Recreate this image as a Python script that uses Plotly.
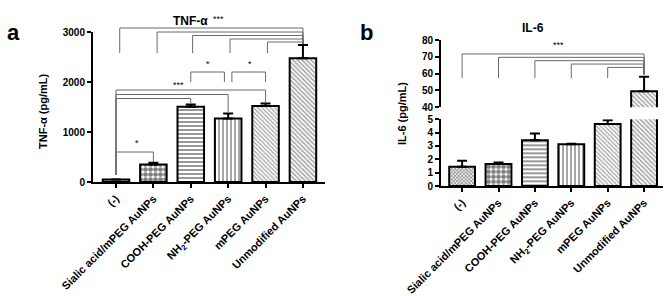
import plotly.graph_objects as go

W, H = 667, 296

# ---------------- data ----------------
categories = ["(-)", "Sialic acid/mPEG AuNPs", "COOH-PEG AuNPs",
              "NH<sub>2</sub>-PEG AuNPs", "mPEG AuNPs", "Unmodified AuNPs"]
tnf_mean = [50, 350, 1505, 1270, 1520, 2475]
tnf_err = [0, 35, 45, 100, 50, 265]
il6_mean = [1.45, 1.64, 3.43, 3.13, 4.65, 49.5]
il6_err = [0.45, 0.13, 0.5, 0.04, 0.28, 8.7]

tnf_ticks = [0, 1000, 2000, 3000]
il6_low_ticks = [0, 1, 2, 3, 4, 5]
il6_high_ticks = [40, 50, 60, 70, 80]

# significance brackets: (x left, x right, bracket level, left leg end, right leg end)
tnf_brackets = [
    (0.1, 5, 3080, 2580, 2760), (1.1, 5, 3000, 2580, 2760), (2.05, 5, 2930, 2580, 2760),
    (3.05, 5, 2860, 2580, 2760), (4.05, 5, 2800, 2580, 2760),
    (0, 4, 1840, 140, 1600), (0, 3, 1750, 140, 1400), (0, 2, 1670, 140, 1580),
    (2, 2.9, 2200, 2000, 2000), (3.1, 4, 2200, 2000, 2000),
    (0, 1, 600, 140, 400),
]
tnf_stars = [("***", 2.73, 3120), ("***", 1.66, 1800), ("*", 2.46, 2220),
             ("*", 3.58, 2220), ("*", 0.56, 640)]
il6_brackets = [
    (0, 5, 71.7, 57.4, 59.5), (1, 5, 69.7, 57.4, 59.5), (2, 5, 67.7, 57.4, 59.5),
    (3, 5, 65.7, 57.4, 59.5), (4, 5, 63.7, 57.4, 59.5),
]
il6_stars = [("***", 2.64, 72.8)]

pattern_shapes = ["x", ".", "-", "|", "\\", "\\"]
pattern_colors = ["#333333", "#000000", "#000000", "#000000", "#555555", "#444444"]
pattern_sizes = [2.5, 5, 4, 4, 3, 3.2]
pattern_solid = [0.6, 0.7, 0.4, 0.35, 0.45, 0.45]

FONT = "Liberation Sans, Arial, sans-serif"

# ---------------- layout helpers (pixel -> paper) ----------------
def px_x(p):
    return p / W

def px_y(p):
    return 1 - p / H

xs = list(range(len(categories)))

fig = go.Figure()

def bar_trace(vals, errs, xa, ya, showerr=True):
    return go.Bar(
        x=xs, y=vals, xaxis=xa, yaxis=ya, width=0.71,
        marker=dict(color="white", line=dict(color="black", width=2),
                    pattern=dict(shape=pattern_shapes, fgcolor=pattern_colors,
                                 bgcolor="white", size=pattern_sizes,
                                 solidity=pattern_solid, fillmode="overlay")),
        error_y=dict(type="data", array=errs, arrayminus=[0] * len(errs),
                     symmetric=False, color="black", thickness=2, width=5,
                     visible=showerr),
        showlegend=False, hoverinfo="skip",
    )

def bracket_trace(brackets, xa, ya):
    bx, by = [], []
    for xl, xr, lvl, lb, rb in brackets:
        bx += [xl, xl, xr, xr, None]
        by += [lb, lvl, lvl, rb, None]
    return go.Scatter(x=bx, y=by, xaxis=xa, yaxis=ya, mode="lines",
                      line=dict(color="#6a6a6a", width=1),
                      showlegend=False, hoverinfo="skip")

# panel a
fig.add_trace(bar_trace(tnf_mean, tnf_err, "x", "y"))
fig.add_trace(bracket_trace(tnf_brackets, "x", "y4"))
# panel b
fig.add_trace(bar_trace(il6_mean, il6_err, "x2", "y2"))
fig.add_trace(bar_trace(il6_mean, il6_err, "x2", "y3"))
fig.add_trace(bracket_trace(il6_brackets, "x2", "y3"))

tickfont = dict(family=FONT, size=10, color="black", weight="bold")
xtickfont = dict(family=FONT, size=11, color="black", weight="bold")
axis_common = dict(showline=True, linecolor="black", linewidth=2, ticks="outside",
                   ticklen=4, tickwidth=1.5, tickcolor="black", showgrid=False,
                   zeroline=False, automargin=False)

a_y0, a_y1 = px_y(182), px_y(32)
a_top = 3200
b_lo0, b_lo1 = px_y(186), px_y(119.3)
b_hi0, b_hi1 = px_y(107.3), px_y(40)

ticktext = [f"<b>{c}</b>" for c in categories]

fig.update_layout(
    width=W, height=H, margin=dict(l=0, r=0, t=0, b=0, autoexpand=False),
    paper_bgcolor="white", plot_bgcolor="rgba(0,0,0,0)",
    font=dict(family=FONT, color="black"),
    xaxis=dict(domain=[px_x(93), px_x(325)], range=[-0.615, 5.59], anchor="y",
               tickvals=xs, ticktext=ticktext, tickangle=-45, tickfont=xtickfont,
               **axis_common),
    yaxis=dict(domain=[a_y0, a_y1], range=[0, 3000], anchor="x",
               tickvals=tnf_ticks, tickfont=tickfont, **axis_common),
    yaxis4=dict(domain=[a_y0, a_y0 + (a_y1 - a_y0) * a_top / 3000], range=[0, a_top],
                anchor="x", visible=False, automargin=False),
    xaxis2=dict(domain=[px_x(441), px_x(663)], range=[-0.58, 5.52], anchor="y2",
                tickvals=xs, ticktext=ticktext, tickangle=-45, tickfont=xtickfont,
                **axis_common),
    yaxis2=dict(domain=[b_lo0, b_lo1], range=[0, 5], anchor="x2",
                tickvals=il6_low_ticks, tickfont=tickfont, **axis_common),
    yaxis3=dict(domain=[b_hi0, b_hi1], range=[40, 80], anchor="x2",
                tickvals=il6_high_ticks, tickfont=tickfont, **axis_common),
)

ann = []
for txt, x, y in tnf_stars:
    ann.append(dict(text=txt, x=x, y=y, xref="x", yref="y4", showarrow=False,
                    font=dict(size=9, family=FONT, color="black"), yanchor="bottom"))
for txt, x, y in il6_stars:
    ann.append(dict(text=txt, x=x, y=y, xref="x2", yref="y3", showarrow=False,
                    font=dict(size=9, family=FONT, color="black"), yanchor="bottom"))

# titles and panel letters
ann += [
    dict(text="<b>TNF-α</b>", x=px_x(190), y=px_y(12), xref="paper", yref="paper",
         xanchor="center", showarrow=False, font=dict(size=12, family=FONT)),
    dict(text="<b>IL-6</b>", x=px_x(533), y=px_y(19), xref="paper", yref="paper",
         xanchor="center", showarrow=False, font=dict(size=12, family=FONT)),
    dict(text="<b>a</b>", x=px_x(13), y=px_y(18), xref="paper", yref="paper",
         xanchor="center", showarrow=False, font=dict(size=22, family=FONT)),
    dict(text="<b>b</b>", x=px_x(366), y=px_y(18), xref="paper", yref="paper",
         xanchor="center", showarrow=False, font=dict(size=22, family=FONT)),
    dict(text="<b>TNF-α (pg/mL)</b>", x=px_x(43), y=px_y(111), xref="paper", yref="paper",
         xanchor="center", showarrow=False, textangle=-90, font=dict(size=11, family=FONT)),
    dict(text="<b>IL-6 (pg/mL)</b>", x=px_x(402), y=px_y(114), xref="paper", yref="paper",
         xanchor="center", showarrow=False, textangle=-90, font=dict(size=11, family=FONT)),
]
fig.update_layout(annotations=ann)

fig.write_html("out.html", config={"displayModeBar": False},
               post_script="document.body.style.margin='0';")
